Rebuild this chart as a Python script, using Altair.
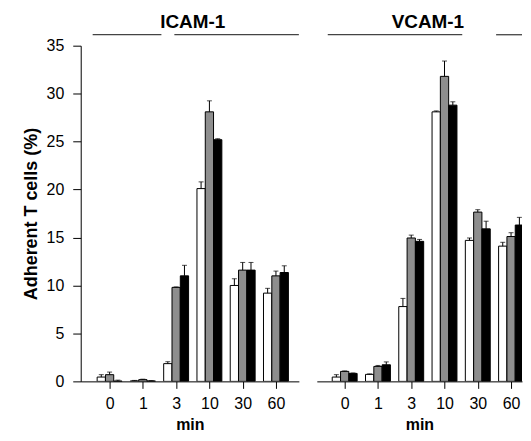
import altair as alt
import pandas as pd

FONT = "Liberation Sans"

times = ["0", "1", "3", "10", "30", "60"]
conditions = ["open", "hatched", "filled"]

# ICAM-1 panel
icam_open = [0.45, 0.05, 1.85, 20.1, 10.0, 9.2]
icam_open_err = [0.25, 0.05, 0.2, 0.7, 0.7, 0.5]
icam_hatched = [0.7, 0.18, 9.8, 28.1, 11.6, 11.0]
icam_hatched_err = [0.27, 0.05, 0.05, 1.15, 0.8, 0.5]
icam_filled = [0.03, 0.05, 11.0, 25.2, 11.6, 11.35]
icam_filled_err = [0.1, 0.03, 1.1, 0.1, 0.8, 0.7]

# VCAM-1 panel
vcam_open = [0.45, 0.73, 7.8, 28.1, 14.7, 14.1]
vcam_open_err = [0.25, 0.05, 0.85, 0.1, 0.25, 0.4]
vcam_hatched = [1.04, 1.56, 14.95, 31.8, 17.65, 15.1]
vcam_hatched_err = [0.05, 0.1, 0.3, 1.6, 0.25, 0.4]
vcam_filled = [0.83, 1.73, 14.6, 28.8, 15.9, 16.3]
vcam_filled_err = [0.05, 0.3, 0.2, 0.35, 0.8, 0.8]


def frame(vals, errs):
    rows = []
    for k, c in enumerate(conditions):
        for i, t in enumerate(times):
            rows.append(dict(time=t, idx=i, cond=c, pos=i + (k - 1) * 0.25,
                             value=vals[k][i], top=vals[k][i] + errs[k][i]))
    return pd.DataFrame(rows)


icam = frame([icam_open, icam_hatched, icam_filled],
             [icam_open_err, icam_hatched_err, icam_filled_err])
vcam = frame([vcam_open, vcam_hatched, vcam_filled],
             [vcam_open_err, vcam_hatched_err, vcam_filled_err])

label_expr = "[" + ",".join("'%s'" % t for t in times) + "][datum.value]"


def panel(df, title, domain, width, show_y, segments):
    xs = alt.X("pos:Q",
               scale=alt.Scale(domain=domain, nice=False, zero=False, padding=0),
               axis=alt.Axis(values=list(range(len(times))), labelExpr=label_expr,
                             title="min", grid=False, tickSize=7, labelPadding=7,
                             titlePadding=5, labelFontSize=16, titleFontSize=16,
                             titleFontWeight="bold", labelFont=FONT, titleFont=FONT,
                             domainColor="black", tickColor="black",
                             labelColor="black", titleColor="black"))
    if show_y:
        yaxis = alt.Axis(values=list(range(0, 36, 5)), title="Adherent T cells (%)",
                         grid=False, tickSize=8, labelPadding=9, titlePadding=6,
                         labelFontSize=16, titleFontSize=18, titleFontWeight="bold",
                         labelFont=FONT, titleFont=FONT, domainColor="black",
                         tickColor="black", labelColor="black", titleColor="black")
    else:
        yaxis = None
    ys = alt.Y("value:Q", scale=alt.Scale(domain=[0, 35], nice=False, padding=0),
               axis=yaxis)

    bars = alt.Chart(df).mark_bar(width=8.3, stroke="black", strokeWidth=1,
                                  orient="vertical", clip=True).encode(
        x=xs, y=ys,
        fill=alt.Fill("cond:N", scale=alt.Scale(domain=conditions,
                                                range=["white", "#8e8e8e", "black"]),
                      legend=None))
    err = alt.Chart(df).mark_rule(color="black", strokeWidth=1).encode(
        x="pos:Q", y="value:Q", y2="top:Q")
    cap = alt.Chart(df).mark_tick(orient="horizontal", size=5, thickness=1,
                                  color="black").encode(x="pos:Q", y="top:Q")
    ttl = alt.Chart(pd.DataFrame({"label": [title]})).mark_text(
        fontSize=19, fontWeight="bold", font=FONT, baseline="alphabetic",
        color="black").encode(x=alt.datum(2.5), y=alt.value(-18), text="label:N")
    layers = [bars, err, cap, ttl]
    for a, b in segments:
        layers.append(alt.Chart(pd.DataFrame({"a": [0]})).mark_rule(
            color="#444444", strokeWidth=1.3).encode(
            x=alt.value(a), x2=alt.value(b), y=alt.value(-11)))
    return alt.layer(*layers).properties(width=width, height=337)


left = panel(icam, "ICAM-1", [-0.868, 5.689], 219, True, [(12, 81), (94, 219)])
right = panel(vcam, "VCAM-1", [-0.838, 5.329], 206, False, [(11, 146), (180, 206)])

chart = (
    alt.hconcat(left, right, spacing=17)
    .properties(padding={"left": 14, "top": 4, "right": 0, "bottom": 0},
                background="white")
    .configure_view(strokeWidth=0, stroke="transparent")
)

chart.save("out.html", embed_options={"renderer": "svg", "actions": False})
